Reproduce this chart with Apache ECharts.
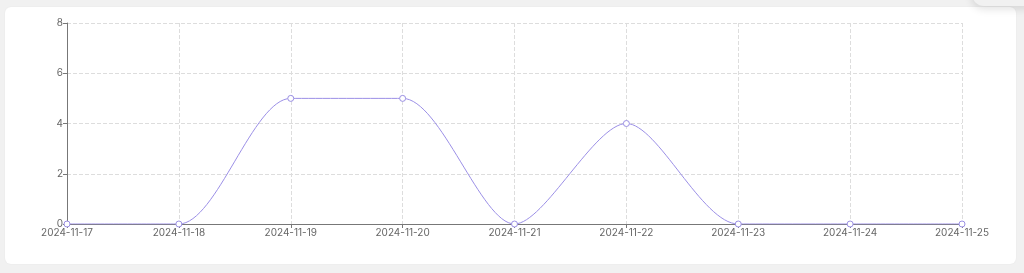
<!DOCTYPE html>
<html>
<head>
<meta charset="utf-8">
<script src="https://cdn.jsdelivr.net/npm/echarts@6/dist/echarts.min.js"></script>
<style>
html,body{margin:0;padding:0;width:1024px;height:273px;background:#f1f1f1;overflow:hidden;}
#card{position:absolute;left:5px;top:7px;width:1011px;height:257px;background:#fff;border-radius:6px;box-shadow:0 0 2px rgba(0,0,0,0.05);}
#shade{position:absolute;left:972px;top:-20px;width:64px;height:26px;border-radius:12px;background:#f1f1f1;box-shadow:0 3px 8px rgba(0,0,0,0.12);}
#chart{position:absolute;left:0;top:0;width:1024px;height:273px;}
</style>
</head>
<body>
<div id="card"></div>
<div id="shade"></div>
<div id="chart"></div>
<script>
const categories = ['2024-11-17','2024-11-18','2024-11-19','2024-11-20','2024-11-21','2024-11-22','2024-11-23','2024-11-24','2024-11-25'];
const values = [0,0,5,5,0,4,0,0,0];
const yTicks = {min:0, max:8, interval:2};

const chart = echarts.init(document.getElementById('chart'), null, {renderer:'canvas'});
const fontFamily = 'Inter, "Open Sans", sans-serif';
chart.setOption({
  animation:false,
  backgroundColor:'transparent',
  grid:{left:67, right:62, top:23, bottom:49, containLabel:false},
  xAxis:{
    type:'category',
    boundaryGap:false,
    data:categories,
    axisLine:{show:true, lineStyle:{color:'#777', width:1}},
    axisTick:{show:true, alignWithLabel:true, length:4, lineStyle:{color:'#777'}},
    axisLabel:{color:'#666', fontSize:10, fontFamily:fontFamily, margin:4, interval:0},
    splitLine:{show:true, lineStyle:{color:'#ddd', type:'dashed'}}
  },
  yAxis:{
    type:'value',
    min:yTicks.min, max:yTicks.max, interval:yTicks.interval,
    axisLine:{show:true, lineStyle:{color:'#777', width:1}},
    axisTick:{show:true, length:4, lineStyle:{color:'#777'}},
    axisLabel:{color:'#666', fontSize:10, fontFamily:fontFamily, margin:4},
    splitLine:{show:true, lineStyle:{color:'#ddd', type:'dashed'}}
  },
  series:[{
    type:'line',
    data:values,
    smooth:0.28,
    symbol:'circle',
    symbolSize:6,
    showSymbol:true,
    lineStyle:{color:'#9b8fe6', width:1},
    itemStyle:{color:'#fff', borderColor:'#9a8fe3', borderWidth:1}
  }]
});
</script>
</body>
</html>
